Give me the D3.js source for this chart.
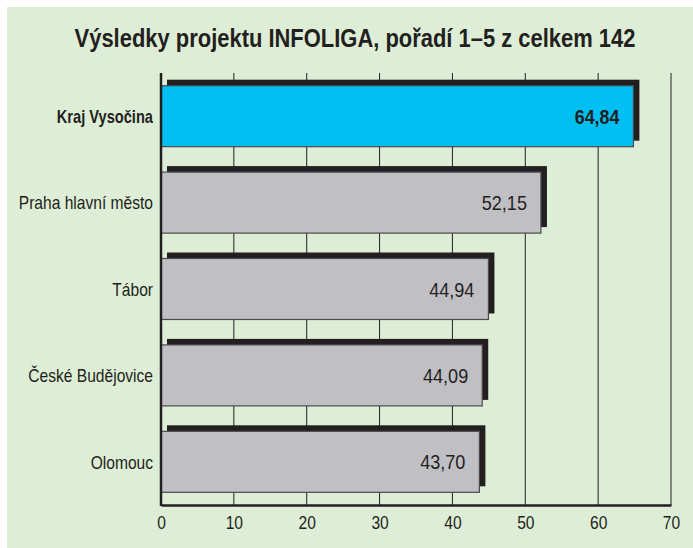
<!DOCTYPE html>
<html>
<head>
<meta charset="utf-8">
<script src="https://cdn.jsdelivr.net/npm/d3@7"></script>
<style>
    body { margin: 0; background: #ffffff; }
    svg text { font-family: "Liberation Sans", Arial, sans-serif; fill: #231f20; }
</style>
</head>
<body>
<div id="chart"></div>
<script>
const categories = ["Kraj Vysočina", "Praha hlavní město", "Tábor", "České Budějovice", "Olomouc"];
const values = [64.84, 52.15, 44.94, 44.09, 43.70];
const valueLabels = ["64,84", "52,15", "44,94", "44,09", "43,70"];
const highlighted = ["Kraj Vysočina"];
const xTicks = [0, 10, 20, 30, 40, 50, 60, 70];
const title = "Výsledky projektu INFOLIGA, pořadí 1–5 z celkem 142";

const width = 693;
const height = 548;
const margin = { top: 73, right: 22, bottom: 43, left: 161 };
const innerW = width - margin.left - margin.right;
const innerH = height - margin.top - margin.bottom;

const data = categories.map((c, i) => ({ name: c, value: values[i], label: valueLabels[i] }));

// squeeze text horizontally to look like a condensed face
function condense(sel, factor) {
    sel.each(function (d) {
        const f = typeof factor === "function" ? factor(d) : factor;
        const w = this.getComputedTextLength();
        d3.select(this)
            .attr("textLength", w * f)
            .attr("lengthAdjust", "spacingAndGlyphs");
    });
}

const svg = d3.select("#chart")
    .append("svg")
    .attr("width", width)
    .attr("height", height);

// green panel
svg.append("rect")
    .attr("x", 7).attr("y", 7)
    .attr("width", width - 7).attr("height", height - 7)
    .attr("fill", "#deeed6");

// title, scaled to the condensed width of the original
const titleText = svg.append("text")
    .attr("x", 0)
    .attr("y", 0)
    .attr("text-anchor", "middle")
    .style("font-size", "25px")
    .style("font-weight", "bold")
    .text(title);
const titleW = titleText.node().getComputedTextLength();
titleText.attr("transform", `translate(355, 47) scale(${561 / titleW}, 1)`);

const g = svg.append("g")
    .attr("transform", `translate(${margin.left}, ${margin.top})`);

const xScale = d3.scaleLinear()
    .domain([0, 70])
    .range([0, innerW]);

const yScale = d3.scaleBand()
    .domain(categories)
    .range([0, innerH])
    .paddingInner(0.294)
    .paddingOuter(0.147);

// grid lines
g.append("g")
    .selectAll("line")
    .data(xTicks.slice(1))
    .enter()
    .append("line")
    .attr("x1", d => xScale(d)).attr("x2", d => xScale(d))
    .attr("y1", 0).attr("y2", innerH)
    .attr("stroke", "#231f20")
    .attr("stroke-width", 1);

// shadows
const shadow = 6;
g.selectAll(".shadow")
    .data(data)
    .enter()
    .append("rect")
    .attr("class", "shadow")
    .attr("x", xScale(0) + shadow)
    .attr("y", d => yScale(d.name) - shadow)
    .attr("width", d => xScale(d.value))
    .attr("height", yScale.bandwidth())
    .attr("fill", "#231f20");

g.selectAll(".bar")
    .data(data)
    .enter()
    .append("rect")
    .attr("class", "bar")
    .attr("x", xScale(0))
    .attr("y", d => yScale(d.name))
    .attr("width", d => xScale(d.value))
    .attr("height", yScale.bandwidth())
    .attr("fill", d => highlighted.includes(d.name) ? "#00bff3" : "#c0c0c4")
    .attr("stroke", "#4a4a4c")
    .attr("stroke-width", 1.2);

// value labels
g.selectAll(".value")
    .data(data)
    .enter()
    .append("text")
    .attr("x", d => xScale(d.value) - 14)
    .attr("y", d => yScale(d.name) + yScale.bandwidth() / 2)
    .attr("dy", "0.36em")
    .attr("text-anchor", "end")
    .style("font-size", "21px")
    .style("font-weight", d => highlighted.includes(d.name) ? "bold" : "normal")
    .text(d => d.label)
    .call(condense, d => highlighted.includes(d.name) ? 0.85 : 0.86);

// category labels
g.selectAll(".cat")
    .data(data)
    .enter()
    .append("text")
    .attr("x", -8)
    .attr("y", d => yScale(d.name) + yScale.bandwidth() / 2)
    .attr("dy", "0.36em")
    .attr("text-anchor", "end")
    .style("font-size", "19px")
    .style("font-weight", d => highlighted.includes(d.name) ? "bold" : "normal")
    .text(d => d.name)
    .call(condense, d => highlighted.includes(d.name) ? 0.77 : 0.82);

// axes
const xAxis = g.append("g")
    .attr("transform", `translate(0, ${innerH})`)
    .call(d3.axisBottom(xScale).tickValues(xTicks).tickSize(0).tickPadding(11));
xAxis.select(".domain").attr("stroke", "#231f20").attr("stroke-width", 2.5);
xAxis.selectAll("text")
    .style("font-size", "19px")
    .attr("fill", "#231f20")
    .style("font-family", "\"Liberation Sans\", Arial, sans-serif")
    .call(condense, 0.82);

g.append("line")
    .attr("x1", 0).attr("x2", 0)
    .attr("y1", 0).attr("y2", innerH + 1)
    .attr("stroke", "#231f20")
    .attr("stroke-width", 2.5);
</script>
</body>
</html>
